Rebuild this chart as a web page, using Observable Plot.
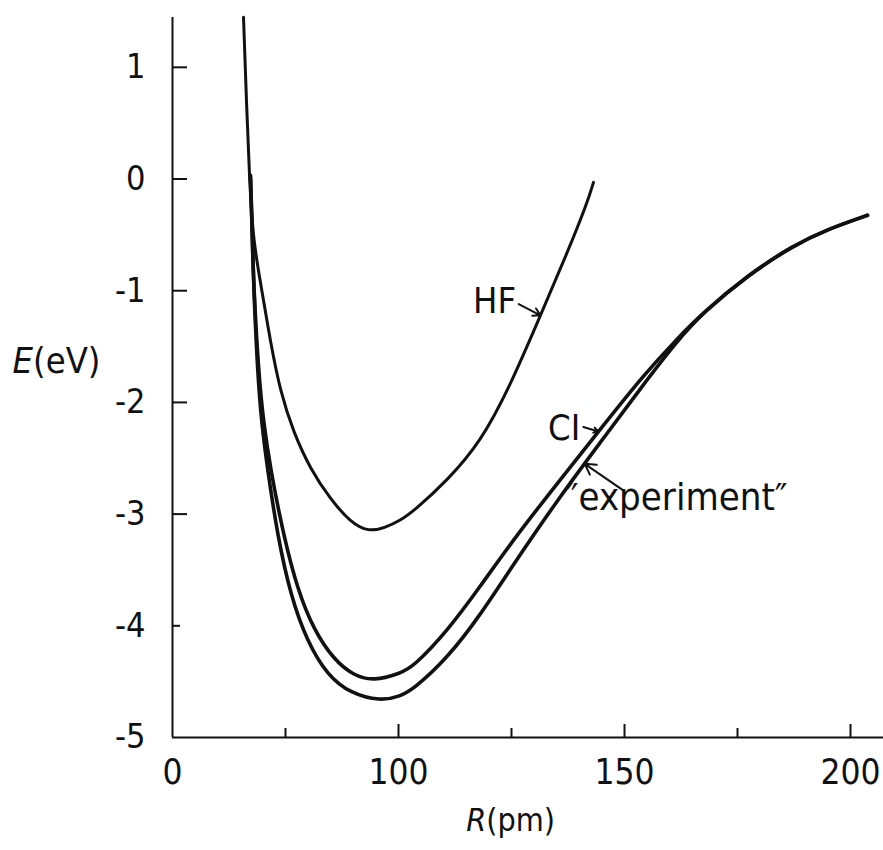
<!DOCTYPE html>
<html><head><meta charset="utf-8">
<script src="https://cdn.jsdelivr.net/npm/d3@7"></script>
<script src="https://cdn.jsdelivr.net/npm/@observablehq/plot@0.6"></script>
<style>body{margin:0;background:#fff} svg{display:block} svg text{font-stretch:condensed}</style>
</head><body><div id="chart"></div>
<script>
// Hartree-Fock curve
const hfR = [65.71, 66.37, 67.04, 67.92, 69.47, 71.68, 73.89, 76.77, 80.53, 84.96, 89.38, 93.36, 97.12, 100.44, 103.32, 110.84, 118.14, 124.78, 131.42, 137.39, 141.81, 143.14];
const hfE = [1.448, 0.687, -0.030, -0.567, -0.925, -1.462, -1.910, -2.268, -2.599, -2.868, -3.073, -3.160, -3.120, -3.055, -2.975, -2.697, -2.357, -1.847, -1.220, -0.656, -0.208, -0.030];
// CI curve
const ciR = [67.26, 67.70, 67.92, 69.03, 70.13, 71.68, 74.56, 77.65, 81.19, 85.62, 90.04, 94.47, 100.44, 103.32, 110.84, 118.14, 125.44, 135.84, 145.35, 154.20, 161.73, 167.48, 177.21, 187.39, 194.91, 203.76];
const ciE = [0.033, -0.567, -0.925, -1.731, -2.178, -2.599, -3.190, -3.673, -4.031, -4.300, -4.445, -4.495, -4.425, -4.365, -4.045, -3.645, -3.226, -2.688, -2.205, -1.757, -1.426, -1.193, -0.862, -0.594, -0.450, -0.325];
// "experiment" curve
const exR = [67.26, 67.70, 67.92, 68.81, 69.69, 71.02, 73.23, 76.11, 79.87, 84.29, 89.38, 96.02, 100.44, 103.32, 110.84, 118.14, 125.44, 135.84, 144.69, 153.54, 161.73, 167.48, 177.21, 187.39, 194.91, 203.76];
const exE = [0.006, -0.567, -0.925, -1.731, -2.178, -2.599, -3.190, -3.727, -4.148, -4.443, -4.606, -4.675, -4.630, -4.567, -4.289, -3.902, -3.449, -2.835, -2.357, -1.874, -1.444, -1.193, -0.862, -0.594, -0.450, -0.325];

// axis ticks
const xLabelValues = [50, 100, 150, 200];
const xLabelTexts = ["0", "100", "150", "200"];
const xMajorTicks = [100, 150, 200];
const xMinorTicks = [75, 125, 175];
const yLabelValues = [1, 0, -1, -2, -3, -4, -5];
const yLongTicks = [1, 0, -1, -2, -3];
const yShortTicks = [-4];

// annotations
const endLabels = ["HF", "CI"];
const endLabelR = [126.0, 140.2];
const endLabelE = [-1.10, -2.23];
const startLabels = ["\u2033experiment\u2033"];
const startLabelR = [137.0];
const startLabelE = [-2.85];
const arrowR1 = [126.6, 140.9, 149.8];
const arrowE1 = [-1.12, -2.22, -2.79];
const arrowR2 = [131.4, 144.2, 141.2];
const arrowE2 = [-1.22, -2.26, -2.55];

const mk = (R, E) => R.map((r, i) => ({R: r, E: E[i]}));
const hf = mk(hfR, hfE);
const ci = mk(ciR, ciE);
const ex = mk(exR, exE);
const endAnn = endLabels.map((t, i) => ({t, R: endLabelR[i], E: endLabelE[i]}));
const startAnn = startLabels.map((t, i) => ({t, R: startLabelR[i], E: startLabelE[i]}));
const arrows = arrowR1.map((r, i) => ({x1: r, y1: arrowE1[i], x2: arrowR2[i], y2: arrowE2[i]}));
const xLab = new Map(xLabelValues.map((v, i) => [v, xLabelTexts[i]]));

const font = '"DejaVu Sans Condensed","DejaVu Sans",sans-serif';
const ink = "#111";

const chart = Plot.plot({
  width: 883, height: 850,
  marginLeft: 172, marginRight: 0, marginTop: 17, marginBottom: 113,
  x: {domain: [50, 207.3], axis: null},
  y: {domain: [-5, 1.446], axis: null},
  style: {fontFamily: font, fontSize: "34px", background: "#fff", color: ink},
  marks: [
    Plot.ruleX([50], {stroke: ink, strokeWidth: 2}),
    Plot.ruleY([-5], {stroke: ink, strokeWidth: 2}),
    Plot.axisY(yLongTicks, {tickSize: -15, fill: "none", label: null, strokeWidth: 2}),
    Plot.axisY(yShortTicks, {tickSize: -8, fill: "none", label: null, strokeWidth: 2}),
    Plot.axisY(yLabelValues, {tickSize: 0, tickPadding: 27, label: null, fontSize: 34,
      tickFormat: d => d < 0 ? "-" + Math.abs(d) : String(d)}),
    Plot.axisX(xMajorTicks, {tickSize: -13, fill: "none", label: null, strokeWidth: 2}),
    Plot.axisX(xMinorTicks, {tickSize: -9, fill: "none", label: null, strokeWidth: 2}),
    Plot.axisX(xLabelValues, {tickSize: 0, tickPadding: 22, label: null, fontSize: 35,
      tickFormat: d => xLab.get(d)}),
    Plot.line(hf, {x: "R", y: "E", stroke: ink, strokeWidth: 3, curve: "basis"}),
    Plot.line(ci, {x: "R", y: "E", stroke: ink, strokeWidth: 3.6, curve: "basis"}),
    Plot.line(ex, {x: "R", y: "E", stroke: ink, strokeWidth: 3.6, curve: "basis"}),
    Plot.arrow(arrows, {x1: "x1", y1: "y1", x2: "x2", y2: "y2", stroke: ink, strokeWidth: 2, headLength: 9}),
    Plot.text(endAnn, {x: "R", y: "E", text: "t", textAnchor: "end", fontSize: 36, fill: ink}),
    Plot.text(startAnn, {x: "R", y: "E", text: "t", textAnchor: "start", fontSize: 38, fill: ink}),
    Plot.text(["R(pm)"], {x: [124.8], frameAnchor: "bottom", dy: 93, text: d => d, fontSize: 32, fill: ink}),
    Plot.text(["E(eV)"], {x: [50], y: [-1.63], dx: -116, text: d => d, fontSize: 36, fill: ink})
  ]
});

chart.querySelectorAll("text").forEach(t => {
  const s = t.textContent;
  if (s === "E(eV)" || s === "R(pm)") {
    t.textContent = "";
    const a = document.createElementNS("http://www.w3.org/2000/svg", "tspan");
    a.setAttribute("font-style", "italic");
    a.textContent = s[0];
    const b = document.createElementNS("http://www.w3.org/2000/svg", "tspan");
    b.textContent = s.slice(1);
    t.appendChild(a); t.appendChild(b);
  }
});
document.getElementById("chart").appendChild(chart);
</script>
</body></html>
